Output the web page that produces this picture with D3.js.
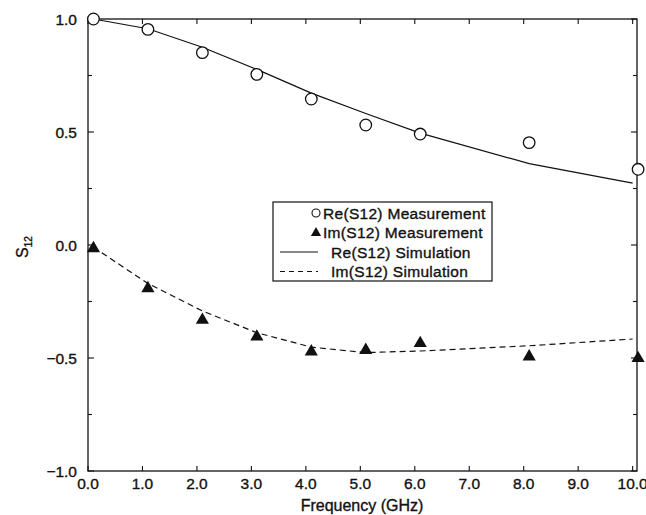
<!DOCTYPE html>
<html>
<head>
<meta charset="utf-8">
<script src="https://cdn.jsdelivr.net/npm/d3@7"></script>
<style>
  body { margin: 0; background: #fff; }
  svg { font-family: "Liberation Sans", Arial, Helvetica, sans-serif; }
  text { fill: #111; stroke: #111; stroke-width: 0.35px; }
</style>
</head>
<body>
<script>
var w = 646,
  h = 515;

// measured points
var measFreq = [0.1, 1.1, 2.1, 3.1, 4.1, 5.1, 6.1, 8.1, 10.1];
var reMeas = [1.0, 0.954, 0.851, 0.755, 0.646, 0.531, 0.491, 0.453, 0.335];
var imMeas = [-0.015, -0.192, -0.332, -0.406, -0.472, -0.465, -0.435, -0.494, -0.501];

// simulated curves
var simFreq = [0.1, 1.1, 2.1, 3.1, 4.1, 5.1, 6.1, 8.1, 10.0];
var reSim = [1.0, 0.957, 0.875, 0.777, 0.672, 0.582, 0.495, 0.36, 0.274];
var imSim = [-0.01, -0.17, -0.292, -0.388, -0.452, -0.476, -0.469, -0.446, -0.416];

var xTicks = [0, 1, 2, 3, 4, 5, 6, 7, 8, 9, 10];
var yTicks = [-1.0, -0.5, 0.0, 0.5, 1.0];
var yMinor = [-0.75, -0.25, 0.25, 0.75];

var legendLabels = ['Re(S12) Measurement', 'Im(S12) Measurement', 'Re(S12) Simulation', 'Im(S12) Simulation'];

var x = d3.scaleLinear().domain([0, 10.08]).range([88, 637]);
var y = d3.scaleLinear().domain([-1, 1]).range([471, 19]);

var svg = d3.select('body').append('svg')
  .attr('width', w)
  .attr('height', h);

// frame
svg.append('rect')
  .attr('x', x(0)).attr('y', y(1))
  .attr('width', x(10.08) - x(0)).attr('height', y(-1) - y(1))
  .attr('fill', 'none').attr('stroke', '#111').attr('stroke-width', 1.3);

// inward ticks on all four sides
var tickG = svg.append('g').attr('stroke', '#111').attr('stroke-width', 1.1);
xTicks.forEach(function (t) {
  tickG.append('line').attr('x1', x(t)).attr('x2', x(t)).attr('y1', y(-1)).attr('y2', y(-1) - 5);
  tickG.append('line').attr('x1', x(t)).attr('x2', x(t)).attr('y1', y(1)).attr('y2', y(1) + 5);
});
yTicks.concat(yMinor).forEach(function (t) {
  var len = yMinor.indexOf(t) >= 0 ? 4 : 6;
  tickG.append('line').attr('x1', x(0)).attr('x2', x(0) + len).attr('y1', y(t)).attr('y2', y(t));
  tickG.append('line').attr('x1', x(10.08)).attr('x2', x(10.08) - len).attr('y1', y(t)).attr('y2', y(t));
});

var fmt = function (v) { return d3.format('.1f')(v).replace('-', '\u2212'); };

svg.append('g').selectAll('text')
  .data(xTicks).enter().append('text')
  .attr('x', function (d) { return x(d); })
  .attr('y', 489)
  .attr('text-anchor', 'middle')
  .attr('font-size', 15.5)
  .text(function (d) { return fmt(d); });

svg.append('g').selectAll('text')
  .data(yTicks).enter().append('text')
  .attr('x', 77)
  .attr('y', function (d) { return y(d) + 5.5; })
  .attr('text-anchor', 'end')
  .attr('font-size', 15.5)
  .text(function (d) { return fmt(d); });

svg.append('text')
  .attr('x', 362).attr('y', 511)
  .attr('text-anchor', 'middle')
  .attr('font-size', 16)
  .text('Frequency (GHz)');

var yl = svg.append('text')
  .attr('transform', 'translate(28,247) rotate(-90)')
  .attr('text-anchor', 'middle')
  .attr('font-size', 16);
yl.append('tspan').text('S');
yl.append('tspan').attr('font-size', 10).attr('dy', 4).text('12');

// simulation curves
var line = d3.line()
  .x(function (d) { return x(d[0]); })
  .y(function (d) { return y(d[1]); });

svg.append('path')
  .datum(d3.zip(simFreq, reSim))
  .attr('d', line)
  .attr('fill', 'none').attr('stroke', '#111').attr('stroke-width', 1.2);

svg.append('path')
  .datum(d3.zip(simFreq, imSim))
  .attr('d', line)
  .attr('fill', 'none').attr('stroke', '#111').attr('stroke-width', 1.2)
  .attr('stroke-dasharray', '6,4');

// measurement markers
var tri = d3.symbol().type(d3.symbolTriangle).size(75);

svg.append('g').selectAll('circle')
  .data(d3.zip(measFreq, reMeas)).enter().append('circle')
  .attr('cx', function (d) { return x(d[0]); })
  .attr('cy', function (d) { return y(d[1]); })
  .attr('r', 5.8)
  .attr('fill', '#fff').attr('stroke', '#111').attr('stroke-width', 1.3);

svg.append('g').selectAll('path')
  .data(d3.zip(measFreq, imMeas)).enter().append('path')
  .attr('d', tri)
  .attr('transform', function (d) { return 'translate(' + [x(d[0]), y(d[1])] + ')'; })
  .attr('fill', '#111');

// legend
var lg = svg.append('g');
lg.append('rect')
  .attr('x', 273).attr('y', 202).attr('width', 219).attr('height', 79)
  .attr('fill', '#fff').attr('stroke', '#111').attr('stroke-width', 1.2);

var rowY = [213, 232.5, 252, 271.5];
var triSmall = d3.symbol().type(d3.symbolTriangle).size(45);

lg.append('circle').attr('cx', 316).attr('cy', rowY[0]).attr('r', 4)
  .attr('fill', '#fff').attr('stroke', '#111').attr('stroke-width', 1.1);
lg.append('path').attr('d', triSmall).attr('transform', 'translate(316,' + (rowY[1] + 0.5) + ')').attr('fill', '#111');
lg.append('line').attr('x1', 280).attr('x2', 318).attr('y1', rowY[2]).attr('y2', rowY[2])
  .attr('stroke', '#111').attr('stroke-width', 1);
lg.append('line').attr('x1', 280).attr('x2', 318).attr('y1', rowY[3]).attr('y2', rowY[3])
  .attr('stroke', '#111').attr('stroke-width', 1).attr('stroke-dasharray', '5,4');

lg.selectAll('text.lab')
  .data(legendLabels).enter().append('text')
  .attr('class', 'lab')
  .attr('x', function (d, i) { return i < 2 ? 323 : 331; })
  .attr('y', function (d, i) { return rowY[i] + 5.5; })
  .attr('font-size', 15.5)
  .attr('letter-spacing', 0.3)
  .text(function (d) { return d; });
</script>
</body>
</html>
